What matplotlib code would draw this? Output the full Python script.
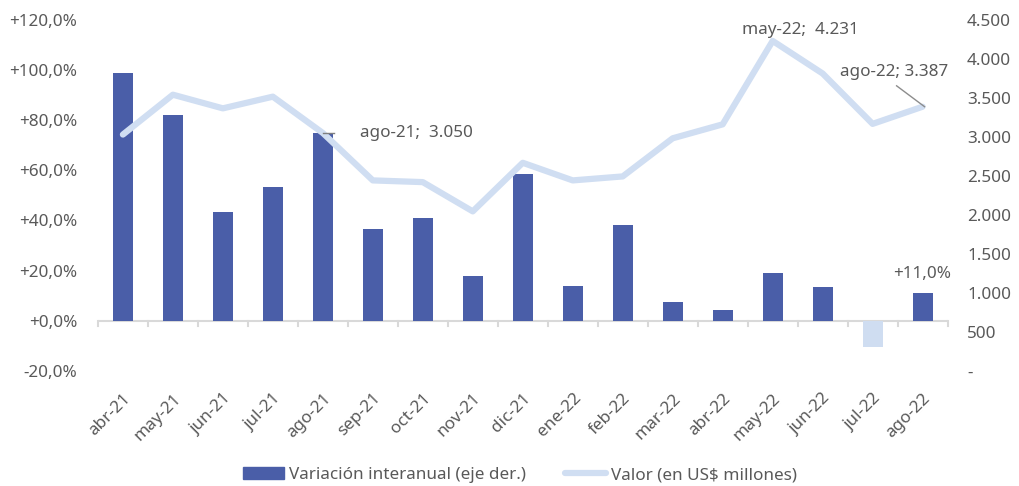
import matplotlib
matplotlib.use("Agg")
import matplotlib.pyplot as plt
import numpy as np
from matplotlib.lines import Line2D
from matplotlib.patches import Patch

categories = ["abr-21", "may-21", "jun-21", "jul-21", "ago-21", "sep-21", "oct-21", "nov-21",
              "dic-21", "ene-22", "feb-22", "mar-22", "abr-22", "may-22", "jun-22", "jul-22", "ago-22"]
variacion = [99.0, 82.2, 43.2, 53.2, 75.0, 36.5, 40.8, 17.7, 58.4, 13.8, 38.0, 7.4, 4.3, 19.2, 13.3, -10.4, 11.0]
valor = [3030, 3541, 3366, 3516, 3050, 2442, 2420, 2045, 2668, 2442, 2493, 2982, 3161, 4231, 3813, 3167, 3387]

left_ticks = [-20, 0, 20, 40, 60, 80, 100, 120]
right_ticks = [0, 500, 1000, 1500, 2000, 2500, 3000, 3500, 4000, 4500]

def fmt_pct(v):
    s = f"{abs(v):.1f}".replace(".", ",")
    return ("-" if v < 0 else "+") + s + "%"

def fmt_num(v):
    if v == 0:
        return "-"
    return f"{v:,.0f}".replace(",", ".")

plt.rcParams['font.family'] = ['Noto Sans', 'DejaVu Sans']
TXT = "#595959"
BAR = "#4A5EA8"
LINE = "#D0DEF2"
NEG = "#CFDDF1"
FS = 12.3

fig = plt.figure(figsize=(10.2, 4.86), dpi=100)
ax = fig.add_axes([0.096, 0.237, 0.833, 0.722])
ax2 = ax.twinx()

x = np.arange(len(categories))
colors = [BAR if v >= 0 else NEG for v in variacion]
ax.bar(x, variacion, width=0.4, color=colors, zorder=2)
ax.set_ylim(-20, 120)
ax.set_xlim(-0.5, len(categories) - 0.5)
ax.set_yticks(left_ticks)
ax.set_yticklabels([fmt_pct(v) for v in left_ticks], color=TXT, fontsize=FS)

ax2.plot(x, valor, color=LINE, lw=4.5, solid_capstyle='round', zorder=3)
ax2.set_ylim(0, 4500)
ax2.set_yticks(right_ticks)
ax2.set_yticklabels([fmt_num(v) for v in right_ticks], color=TXT, fontsize=FS)

for a in (ax, ax2):
    for s in a.spines.values():
        s.set_visible(False)
    a.tick_params(axis='y', length=0)
ax.tick_params(axis='y', pad=15)
ax2.tick_params(axis='y', pad=14)

# category axis at zero
ax.axhline(0, color="#D9D9D9", lw=1.5, zorder=1)
for b in np.arange(-0.5, len(categories) + 0.5, 1.0):
    ax.plot([b, b], [0, -2.2], color="#D9D9D9", lw=1.5, clip_on=False, zorder=1)
ax.set_xticks(x)
ax.set_xticklabels(categories, rotation=45, ha='right', rotation_mode='anchor', color=TXT, fontsize=FS)
ax.tick_params(axis='x', length=0, pad=14)

# annotations
i_ago21 = categories.index("ago-21")
ax2.text(i_ago21 + 0.74, valor[i_ago21], f"ago-21;  {fmt_num(valor[i_ago21])}",
         color=TXT, fontsize=FS, va='center', ha='left')
ax2.plot([i_ago21, i_ago21 + 0.22], [valor[i_ago21]] * 2, color="#7F7F7F", lw=1, zorder=4)
i_may22 = categories.index("may-22")
ax2.text(i_may22 + 0.55, 4370, f"may-22;  {fmt_num(valor[i_may22])}", color=TXT, fontsize=FS,
         ha='center', va='center')
i_ago22 = categories.index("ago-22")
ax2.text(i_ago22 - 0.56, 3830, f"ago-22; {fmt_num(valor[i_ago22])}", color=TXT, fontsize=FS,
         ha='center', va='center')
ax2.plot([i_ago22 - 0.52, i_ago22 + 0.04], [3655, valor[i_ago22]], color="#8C8C8C", lw=1, zorder=4)
ax.text(i_ago22, variacion[i_ago22] + 4.5, fmt_pct(variacion[i_ago22]), color=TXT, fontsize=FS,
        ha='center', va='bottom')

handles = [Patch(color=BAR), Line2D([0], [0], color=LINE, lw=4.5, solid_capstyle='round')]
fig.legend(handles, ["Variación interanual (eje der.)", "Valor (en US$ millones)"],
           loc='center', bbox_to_anchor=(0.51, 0.022), ncol=2, frameon=False,
           fontsize=FS, labelcolor=TXT, handlelength=2.4, handletextpad=0.3, columnspacing=2.3)

fig.savefig("out.png", dpi=100)
